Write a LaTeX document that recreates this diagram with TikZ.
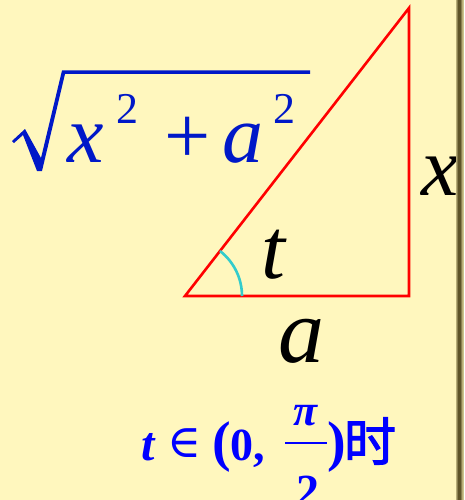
\documentclass[tikz,border=0pt]{standalone}
\usepackage{fontspec}
\setmainfont{Liberation Serif}
\newfontfamily\symfont{DejaVu Serif}
\newfontfamily\cjk[AutoFakeBold=2]{Noto Sans CJK SC}
\definecolor{bg}{RGB}{255,247,190}
\definecolor{sqblue}{RGB}{0,24,200}
\definecolor{arccyan}{RGB}{51,204,204}
\definecolor{barA}{RGB}{184,174,120}
\definecolor{barB}{RGB}{138,128,80}
\definecolor{barC}{RGB}{94,84,40}
\tikzset{
  glyph/.style={inner sep=0pt, outer sep=0pt},
  fs/.style={font=\fontsize{#1}{#1}\selectfont},
  edge/.style={draw=red, line width=2.6pt},
}
\begin{document}
\begin{tikzpicture}[x=1pt,y=-1pt]
\useasboundingbox (0,0) rectangle (464,500);
\clip (0,0) rectangle (464,500);
\fill[bg] (0,0) rectangle (464,500);
% triangle
\coordinate (A) at (185,296);
\coordinate (B) at (409,296);
\coordinate (C) at (409,8);
\draw[edge, line join=miter] (A) -- (B) -- (C) -- cycle;
% angle arc
\draw[arccyan, line width=2.6pt] ([xshift=57pt]A) arc[start angle=0, end angle=52.1, radius=57pt];
% labels
\node[glyph, anchor=base, fs=86] (lt) at (273,278) {\itshape t};
\node[glyph, anchor=base, fs=92] (la) at (301,362) {\itshape a};
\node[glyph, anchor=base west, fs=84] (lx) at (421,195) {\itshape x};
% sqrt
\fill[sqblue] (12,141) -- (25,129) -- (41,158) -- (62,70.5) -- (310,70.5) -- (310,74) -- (65,74) -- (42,171) -- (37,171) -- (23,135) -- (14,143) -- cycle;
\node[glyph, anchor=base west, text=sqblue, fs=82] (sx) at (67,162) {\itshape x};
\node[glyph, anchor=base west, text=sqblue, fs=44] (s2a) at (116,124) {2};
\node[glyph, anchor=center, text=sqblue, fs=82] (splus) at (188,140) {+};
\node[glyph, anchor=base west, text=sqblue, fs=82] (sa) at (222,162) {\itshape a};
\node[glyph, anchor=base west, text=sqblue, fs=44] (s2b) at (273,124) {2};
% bottom range
\node[glyph, anchor=base west, text=blue, fs=48] (bt) at (141,460) {\bfseries\itshape t};
\node[glyph, anchor=center, text=blue, fs=46] (bin) at (185,443) {\symfont ∈};
\node[glyph, anchor=base west, text=blue, fs=56] (blp) at (212,460) {\bfseries (};
\node[glyph, anchor=base west, text=blue, fs=46] (b0) at (230,460) {\bfseries 0,};
\node[glyph, anchor=base, text=blue, fs=44] (bpi) at (306,425) {\bfseries\itshape π};
\draw[blue, line width=2.5pt] (285,443) -- (327,443);
\node[glyph, anchor=base, text=blue, fs=46] (btwo) at (308,506) {\bfseries 2};
\node[glyph, anchor=base west, text=blue, fs=56] (brp) at (327,460) {\bfseries )};
\node[glyph, anchor=center, text=blue, fs=52] (bshi) at (370,441) {\cjk\bfseries 时};
% right edge bar
\fill[barA] (456,0) rectangle (464,500);
\fill[barB] (457,0) rectangle (462,500);
\fill[barC] (458,0) rectangle (461,500);
\fill[barA!70!bg] (462.5,0) rectangle (464,500);
\end{tikzpicture}
\end{document}
